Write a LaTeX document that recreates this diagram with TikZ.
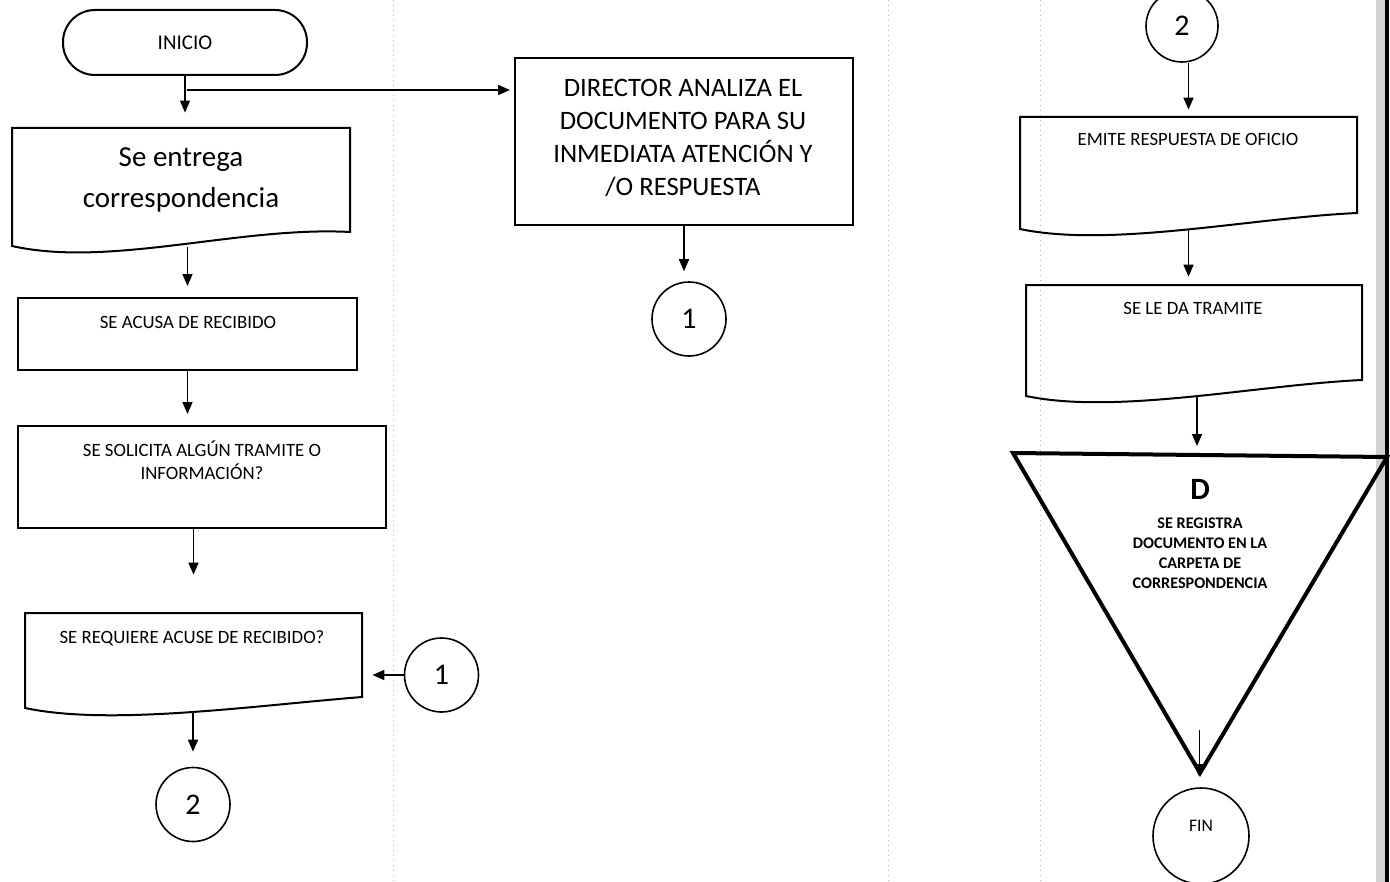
\documentclass[tikz,border=0pt]{standalone}
\usepackage{fontspec}
\setmainfont{Carlito}
\usetikzlibrary{arrows.meta,calc}
\begin{document}
\begin{tikzpicture}[x=0.5pt,y=-0.5pt,
  outl/.style={draw=black,line width=1pt},
  box/.style={outl,rectangle,inner sep=0pt},
  ghost/.style={rectangle,draw=none,inner sep=0pt},
  conn/.style={circle,draw=black,line width=0.8pt,minimum size=37pt,inner sep=0pt,font=\fontsize{15}{18}\selectfont},
  txt/.style={align=center,inner sep=0pt},
  small/.style={txt,font=\fontsize{9.4}{11.5}\selectfont},
  arr/.style={draw=black,line width=0.8pt,-{Triangle[length=6pt,width=5pt]}},
  colsep/.style={draw=gray!60,dotted,line width=0.5pt}]

\useasboundingbox (0,0) rectangle (1390,882);
\fill[white] (0,0) rectangle (1390,882);

% column separators
\draw[colsep] (393,0) -- (393,882);
\draw[colsep] (888,0) -- (888,882);
\draw[colsep] (1040,0) -- (1040,882);
% right border
\fill[gray!35] (1376,0) rectangle (1385,882);
\draw[line width=2pt] (1387,0) -- (1387,882);

% ---------- left column ----------
\node[outl,rounded corners=16pt,minimum width=122pt,minimum height=32.5pt,
      font=\fontsize{10.5}{12}\selectfont] (inicio) at (185,42.5) {INICIO};

\node[ghost,minimum width=169pt,minimum height=59.5pt] (doc1) at (181,187.5) {};
\draw[outl] (12,246) -- (12,128) -- (350,128) -- (350,232)
  .. controls (240,226) and (110,268) .. cycle;
\node[txt,font=\fontsize{14.5}{20.5}\selectfont] (doc1T) at (181,180) {Se entrega\\correspondencia};

\node[box,minimum width=169.5pt,minimum height=36pt] (acusa) at (187.5,334) {};
\node[small] (acusaT) at (188,322) {SE ACUSA DE RECIBIDO};

\node[box,minimum width=184pt,minimum height=51pt] (solicita) at (202,477) {};
\node[small] (solicitaT) at (202,460) {SE SOLICITA ALGÚN TRAMITE O\\INFORMACIÓN?};

\node[ghost,minimum width=168.5pt,minimum height=49.5pt] (doc2) at (193.5,662.5) {};
\draw[outl] (25,708) -- (25,613) -- (362,613) -- (362,697)
  .. controls (250,706) and (110,726) .. cycle;
\node[small] (doc2T) at (192,638) {SE REQUIERE ACUSE DE RECIBIDO?};

\node[conn] (c2a) at (193,804.5) {2};
\node[conn] (c1a) at (441.5,675) {1};

% ---------- middle column ----------
\node[box,minimum width=169pt,minimum height=83.5pt] (director) at (684,141.5) {};
\node[txt,font=\fontsize{13.3}{16.5}\selectfont] (directorT) at (683,138)
  {DIRECTOR ANALIZA EL\\DOCUMENTO PARA SU\\INMEDIATA ATENCIÓN Y\\/O RESPUESTA};
\node[conn] (c1b) at (689,319) {1};

% ---------- right column ----------
\node[conn,minimum size=36pt] (c2b) at (1182,26) {2};

\node[ghost,minimum width=168.5pt,minimum height=56.5pt] (emite) at (1188.5,173.5) {};
\draw[outl] (1020,229) -- (1020,117) -- (1357,117) -- (1357,213)
  .. controls (1250,218) and (1110,248) .. cycle;
\node[small] (emiteT) at (1188,139) {EMITE RESPUESTA DE OFICIO};

\node[ghost,minimum width=168pt,minimum height=56pt] (sele) at (1194,341) {};
\draw[outl] (1026,396) -- (1026,285) -- (1362,285) -- (1362,380)
  .. controls (1256,385) and (1116,415) .. cycle;
\node[small] (seleT) at (1193,308) {SE LE DA TRAMITE};

\draw[line width=2pt,line join=miter] (1013,453) -- (1387,457) -- (1200,773) -- cycle;
\coordinate (tritop) at (1197,455);
\node[txt,font=\bfseries\fontsize{15.5}{18}\selectfont] (triD) at (1200,489) {D};
\node[txt,font=\bfseries\fontsize{8.1}{10}\selectfont] (triT) at (1200,553)
  {SE REGISTRA\\DOCUMENTO EN LA\\CARPETA DE\\CORRESPONDENCIA};
\coordinate (apexin) at (1199,730);

\node[circle,draw=black,line width=0.8pt,minimum size=48pt,inner sep=0pt] (fin) at (1201,836) {};
\node[txt,font=\fontsize{8.8}{10}\selectfont] (finT) at (1201,826) {FIN};

% ---------- connectors ----------
\draw[arr,shorten >=7.5pt] (inicio.south) -- (inicio.south |- doc1.north);
\coordinate (br) at ($(inicio.south)+(2,14)$);
\draw[arr,shorten >=2pt] (br) -- (br -| director.west);
\draw[arr,shorten >=5.5pt] (doc1.south -| acusa.north) -- (acusa.north);
\draw[arr,shorten >=5.5pt] (acusa.south) -- (acusa.south |- solicita.north);
\draw[arr,shorten >=19pt] (solicita.south -| doc2.north) -- (doc2.north);
\draw[arr,shorten >=7.5pt] (doc2.south) -- (doc2.south -| c2a.north) -- (c2a.north);
\draw[arr,shorten >=5pt] (c1a.west) -- (c1a.west -| doc2.east);
\draw[arr,shorten >=5pt] (director.south) -- (director.south |- c1b.north);
\draw[arr,shorten >=3.5pt] (emite.north |- c2b.south) -- (emite.north);
\draw[arr,shorten >=4pt] (emite.south) -- (emite.south |- sele.north);
\draw[arr,shorten >=4.5pt] (sele.south -| tritop) -- (tritop);
\draw[arr,line width=0.5pt,shorten >=5.5pt] (apexin) -- (apexin |- fin.north);
\end{tikzpicture}
\end{document}
